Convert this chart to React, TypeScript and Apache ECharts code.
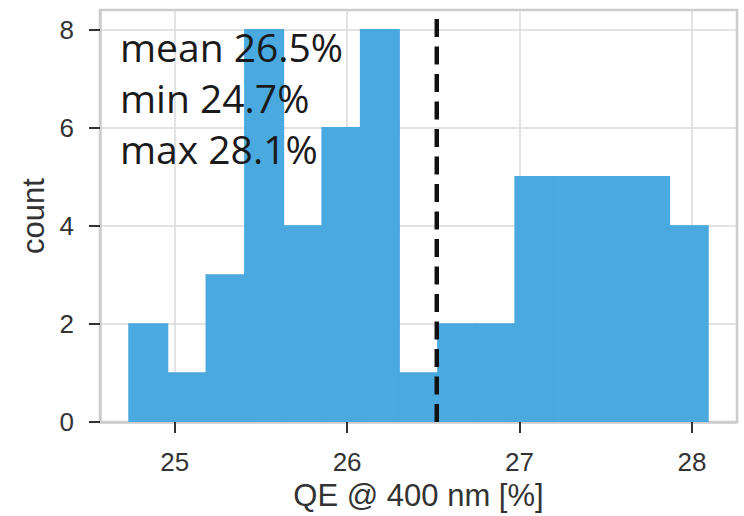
import React, { useEffect, useRef } from "react";
import * as echarts from "echarts";

// Histogram of QE @ 400 nm
const binEdges = [
  24.735, 24.959, 25.183, 25.407, 25.631, 25.855, 26.078, 26.302, 26.526,
  26.75, 26.974, 27.198, 27.422, 27.645, 27.869, 28.093,
];
const counts = [2, 1, 3, 8, 4, 6, 8, 1, 2, 2, 5, 5, 5, 5, 4];
const xTicks = [25, 26, 27, 28];
const yTicks = [0, 2, 4, 6, 8];
const xRange = [24.567, 28.261];
const yRange = [0, 8.4];
const meanValue = 26.52;
const minValue = 24.735;
const maxValue = 28.093;

const statTexts = [
  `mean ${meanValue.toFixed(1)}%`,
  `min ${minValue.toFixed(1)}%`,
  `max ${maxValue.toFixed(1)}%`,
];

const barColor = "#4aa9df";
const tickFont = "'Liberation Sans', Arial, sans-serif";

export default function App() {
  const ref = useRef<HTMLDivElement>(null);

  useEffect(() => {
    document.body.style.margin = "0";
    if (!ref.current) return;
    const chart = echarts.init(ref.current, undefined, { renderer: "svg" });

    const histData = counts.map((c, i) => [binEdges[i], binEdges[i + 1], c]);

    const option: any = {
      animation: false,
      backgroundColor: "#ffffff",
      grid: {
        left: 100,
        right: 7,
        top: 10,
        bottom: 92,
        show: true,
        borderColor: "#cccccc",
        borderWidth: 2.5,
        backgroundColor: "transparent",
        containLabel: false,
      },
      xAxis: {
        type: "value",
        min: xRange[0],
        max: xRange[1],
        name: "QE @ 400 nm [%]",
        nameLocation: "middle",
        nameGap: 55,
        nameTextStyle: { fontFamily: tickFont, fontSize: 31, color: "#333333" },
        axisLine: { show: true, lineStyle: { color: "#cccccc", width: 2.5 } },
        axisTick: {
          show: true,
          length: 11,
          customValues: xTicks,
          lineStyle: { color: "#333333", width: 2 },
        },
        axisLabel: {
          customValues: xTicks,
          margin: 27,
          fontFamily: tickFont,
          fontSize: 26,
          color: "#333333",
          formatter: (v: number) => String(v),
        },
        splitLine: { show: true, lineStyle: { color: "#dadada", width: 1.5 } },
      },
      yAxis: {
        type: "value",
        min: yRange[0],
        max: yRange[1],
        name: "count",
        nameLocation: "middle",
        nameGap: 50,
        nameTextStyle: { fontFamily: tickFont, fontSize: 31, color: "#333333" },
        axisLine: { show: true, lineStyle: { color: "#cccccc", width: 2.5 } },
        axisTick: {
          show: true,
          length: 11,
          customValues: yTicks,
          lineStyle: { color: "#333333", width: 2 },
        },
        axisLabel: {
          customValues: yTicks,
          margin: 26,
          fontFamily: tickFont,
          fontSize: 26,
          color: "#333333",
          formatter: (v: number) => String(v),
        },
        splitLine: { show: true, lineStyle: { color: "#dadada", width: 1.5 } },
      },
      series: [
        {
          type: "custom",
          name: "hist",
          clip: true,
          encode: { x: [0, 1], y: 2 },
          data: histData,
          renderItem: (params: any, api: any) => {
            const p0 = api.coord([api.value(0), api.value(2)]);
            const p1 = api.coord([api.value(1), 0]);
            return {
              type: "rect",
              shape: {
                x: p0[0],
                y: p0[1],
                width: p1[0] - p0[0],
                height: p1[1] - p0[1],
              },
              style: { fill: barColor, stroke: barColor, lineWidth: 1.4 },
            };
          },
          z: 2,
        },
        {
          type: "line",
          name: "mean",
          data: [
            [meanValue, yRange[0]],
            [meanValue, yRange[1]],
          ],
          symbol: "none",
          lineStyle: { color: "#111111", width: 4.5, type: [18, 9.5] },
          z: 5,
        },
      ],
      graphic: statTexts.map((t, i) => ({
        type: "text",
        x: 120,
        y: 46.5 + i * 51,
        z: 10,
        style: {
          text: t,
          fontFamily: "'Open Sans', 'Noto Sans', sans-serif",
          fontSize: 39,
          fill: "#1a1a1a",
          verticalAlign: "middle",
          align: "left",
        },
      })),
    };

    chart.setOption(option);
    return () => chart.dispose();
  }, []);

  return <div ref={ref} style={{ width: 744, height: 516 }} />;
}
